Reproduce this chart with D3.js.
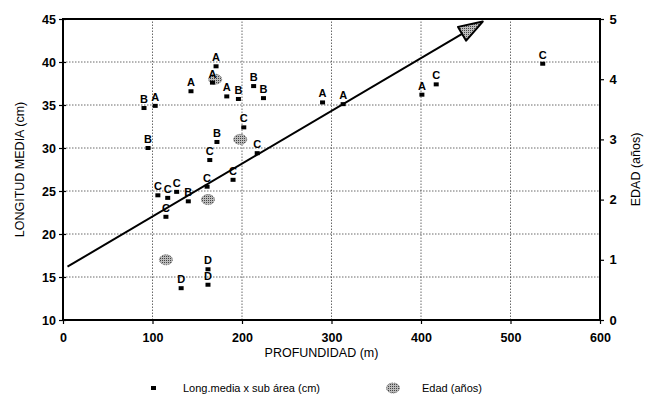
<!DOCTYPE html>
<html><head><meta charset="utf-8">
<script src="https://cdn.jsdelivr.net/npm/d3@7"></script>
<style>body{margin:0;background:#fff}svg{display:block}text{font-family:"Liberation Sans",Arial,sans-serif}</style>
</head><body>
<script>
// Data: Longitud media x sub área (cm) by profundidad (m)
const depth  = [90.5,103,95,143,171,167,183,196,213,224,202,217,172,164,161,190,140,106,117,127,115,132,162,162,290,313,401,417,536];
const length = [34.65,34.9,30.0,36.6,39.5,37.6,36.0,35.7,37.2,35.8,32.4,29.4,30.7,28.6,25.5,26.3,23.8,24.5,24.2,24.9,22.0,13.7,15.9,14.1,35.3,35.1,36.2,37.4,39.8];
const subArea= ["B","A","B","A","A","A","A","B","B","B","C","C","B","C","C","C","B","C","C","C","C","D","D","D","A","A","A","C","C"];
// Edad (años) by profundidad
const ageDepth = [115,162,198,170];
const ageYears = [1,2,3,4];
// Trend arrow (profundidad, longitud)
const trendX = [5,469];
const trendY = [16.2,44.7];
const xTicks = [0,100,200,300,400,500,600];
const yTicks = [10,15,20,25,30,35,40,45];
const rTicks = [0,1,2,3,4,5];

const W=656,H=415;
const svg=d3.select("body").append("svg").attr("width",W).attr("height",H);
const x=d3.scaleLinear().domain([0,600]).range([63,600]);
const y=d3.scaleLinear().domain([10,45]).range([320,19]);
const yR=d3.scaleLinear().domain([0,5]).range([320,19]);

// grid
const g=svg.append("g");
g.selectAll(".gx").data(xTicks.slice(1,-1)).join("line")
 .attr("x1",d=>x(d)).attr("x2",d=>x(d)).attr("y1",y(10)).attr("y2",y(45))
 .attr("stroke","#444").attr("stroke-width",0.8).attr("stroke-dasharray","1.5,1.5");
g.selectAll(".gy").data(yTicks.slice(1,-1)).join("line")
 .attr("y1",d=>y(d)).attr("y2",d=>y(d)).attr("x1",x(0)).attr("x2",x(600))
 .attr("stroke","#444").attr("stroke-width",0.8).attr("stroke-dasharray","1.5,1.5");

// axes
const axL=d3.axisLeft(y).tickValues(yTicks).tickSize(4).tickFormat(d3.format("d"));
const axB=d3.axisBottom(x).tickValues(xTicks).tickSize(4).tickFormat(d3.format("d"));
const axR=d3.axisRight(yR).tickValues(rTicks).tickSize(4).tickFormat(d3.format("d"));
function style(sel){sel.select(".domain").remove();sel.selectAll("line").attr("stroke","#000").attr("stroke-width",1.2);
 sel.selectAll("text").attr("font-size",12.5).attr("font-weight","bold").attr("fill","#000");}
svg.append("g").attr("transform",`translate(${x(0)},0)`).call(axL).call(style).selectAll("line").attr("x2",-4).attr("x1",3);
svg.append("g").attr("transform",`translate(0,${y(10)})`).call(axB).call(style).call(s=>s.selectAll("text").attr("dy","1.2em"));
svg.append("g").attr("transform",`translate(${x(600)},0)`).call(axR).call(style).call(s=>s.selectAll("text").attr("dx","0.2em").attr("font-size",13));

// frame
svg.append("rect").attr("x",x(0)).attr("y",y(45)).attr("width",x(600)-x(0)).attr("height",y(10)-y(45))
 .attr("fill","none").attr("stroke","#000").attr("stroke-width",2);

// titles
svg.append("text").attr("x",(x(0)+x(600))/2-10).attr("y",357).attr("text-anchor","middle").attr("font-size",12.5).text("PROFUNDIDAD (m)");
svg.append("text").attr("transform",`translate(24,${(y(10)+y(45))/2}) rotate(-90)`).attr("text-anchor","middle").attr("font-size",12.5).text("LONGITUD MEDIA (cm)");
svg.append("text").attr("transform",`translate(640,${(y(10)+y(45))/2}) rotate(-90)`).attr("text-anchor","middle").attr("font-size",12.5).text("EDAD (años)");

// age blobs
const defs=svg.append("defs");
const pat=defs.append("pattern").attr("id","dots").attr("width",2).attr("height",2).attr("patternUnits","userSpaceOnUse");
pat.append("rect").attr("width",2).attr("height",2).attr("fill","#bbb");
pat.append("rect").attr("width",1).attr("height",1).attr("fill","#444");
function blob(sel,cx,cy){
 sel.append("ellipse").attr("cx",cx).attr("cy",cy).attr("rx",6.5).attr("ry",5).attr("fill","url(#dots)").attr("stroke","#777").attr("stroke-width",1).attr("stroke-dasharray","1.5,1");
}
ageDepth.forEach((d,i)=>blob(svg,x(d),yR(ageYears[i])));

// trend arrow
const x1=x(trendX[0]),y1=y(trendY[0]),x2=x(trendX[1]),y2=y(trendY[1]);
const ang=Math.atan2(y2-y1,x2-x1);
const hl=24,hw=8;
const bx=x2-hl*Math.cos(ang),by=y2-hl*Math.sin(ang);
svg.append("line").attr("x1",x1).attr("y1",y1).attr("x2",bx).attr("y2",by).attr("stroke","#000").attr("stroke-width",2);
svg.append("polygon").attr("points",[[x2,y2],[bx-hw*Math.sin(ang),by+hw*Math.cos(ang)],[bx+hw*Math.sin(ang),by-hw*Math.cos(ang)]].map(p=>p.join(",")).join(" "))
 .attr("fill","url(#dots)").attr("stroke","#000").attr("stroke-width",2).attr("stroke-linejoin","round");

// points
const pts=svg.append("g");
depth.forEach((d,i)=>{
 pts.append("rect").attr("x",x(d)-2.5).attr("y",y(length[i])-2).attr("width",5).attr("height",4).attr("fill","#000");
 pts.append("text").attr("x",x(d)).attr("y",y(length[i])-5).attr("text-anchor","middle").attr("font-size",11).attr("font-weight","bold").attr("fill","#000").text(subArea[i]);
});

// legend
const ly=388;
svg.append("rect").attr("x",151).attr("y",ly-2).attr("width",5).attr("height",4).attr("fill","#000");
svg.append("text").attr("x",183).attr("y",ly+4).attr("font-size",11).text("Long.media x sub área (cm)");
blob(svg,393,ly);
svg.append("text").attr("x",422).attr("y",ly+4).attr("font-size",11).text("Edad (años)");
</script>
</body></html>
